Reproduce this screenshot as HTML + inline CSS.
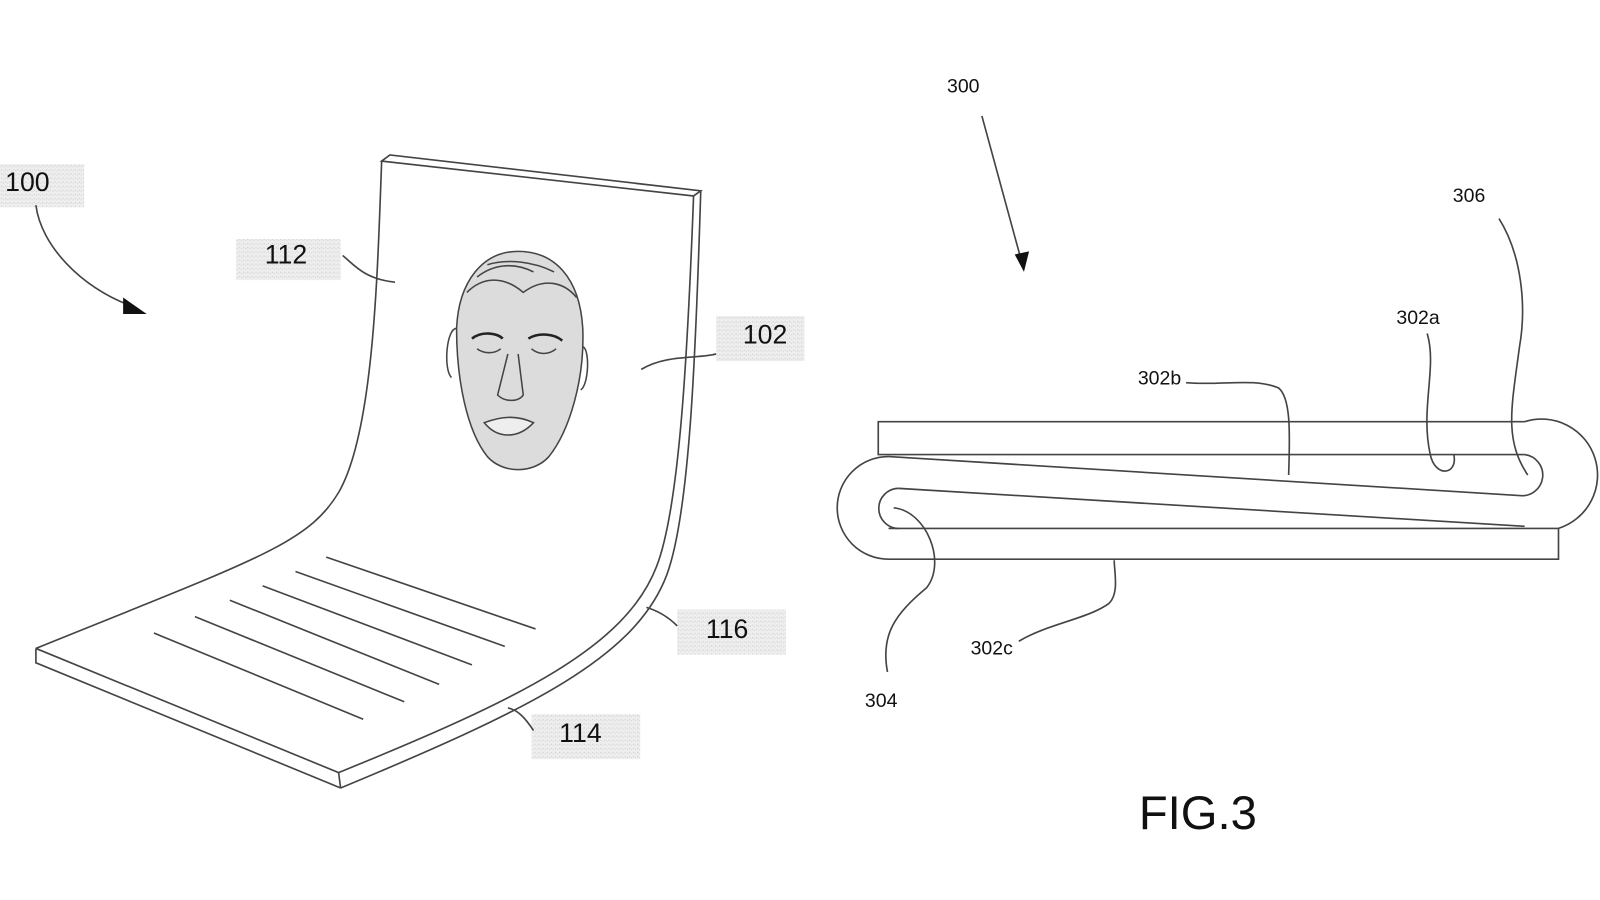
<!DOCTYPE html>
<html><head><meta charset="utf-8"><style>
html,body{margin:0;padding:0;background:#fff;}
svg{display:block}
text{font-family:"Liberation Sans",sans-serif;fill:#111}
</style></head><body>
<svg width="1600" height="900" viewBox="0 0 1600 900" xmlns="http://www.w3.org/2000/svg">
<defs>
<pattern id="dots" width="4" height="4" patternUnits="userSpaceOnUse">
<rect width="4" height="4" fill="#eeeeee"/><rect x="1" y="1" width="1" height="1" fill="#c8c8c8"/><rect x="3" y="2" width="1" height="1" fill="#d4d4d4"/>
</pattern>
</defs>
<g transform="scale(1.026)">
<g fill="url(#dots)">
<rect x="0" y="160" width="82" height="42"/>
<rect x="230" y="233" width="102" height="40"/>
<rect x="698" y="308" width="86" height="44"/>
<rect x="660" y="594" width="106" height="44"/>
<rect x="518" y="696" width="106" height="44"/>
</g>
<g font-size="26">
<text x="5" y="186">100</text>
<text x="258" y="257">112</text>
<text x="724" y="335">102</text>
<text x="688" y="622">116</text>
<text x="545" y="723">114</text>
</g>
<g fill="none" stroke="#444" stroke-width="1.6">
<path d="M372,157 L380,151 L683,186 L676,191 Z"/>
<path d="M372,157 C368,260 365,420 330,480 C300,530 250,545 35,632"/>
<path d="M683,186 C678,350 672,500 650,560 C620,640 520,690 332,768"/>
<path d="M676,191 C670,350 662,495 640,552 C610,630 510,680 330,753"/>
<path d="M35,632 L35,646 L332,768 M35,632 L330,753 L332,768"/>
<path d="M318,543 L522,613 M288,557 L492,630 M256,571 L460,648 M224,585 L428,667 M190,601 L394,684 M150,617 L354,701"/>
<path d="M35,200 C40,240 80,280 125,297"/>
<path d="M334,249 C345,258 355,272 385,275"/>
<path d="M698,345 C680,350 650,345 625,360"/>
<path d="M660,610 C650,600 640,595 630,592"/>
<path d="M520,712 C512,700 505,692 495,690"/>
</g>
<path d="M120,290 L143,306 L120,306 Z" fill="#111"/>
<g stroke="#444" stroke-width="1.5">
<path d="M505,245 C540,245 565,270 568,320 C570,370 555,420 535,445 C520,462 490,462 475,445 C455,420 445,370 445,320 C447,275 470,245 505,245 Z" fill="#dcdcdc"/>
<path d="M445,320 C435,320 432,360 440,368 M568,338 C575,340 574,375 566,380" fill="none"/>
<path d="M455,285 C470,270 490,268 510,285 C530,270 550,275 562,290 M465,270 C480,258 500,255 520,265 M475,258 C495,252 520,255 540,265" fill="none"/>
<path d="M460,330 C470,322 485,325 490,330 M515,330 C525,324 540,325 548,332" fill="none" stroke-width="2.5" stroke="#222"/>
<path d="M465,340 C472,345 482,345 488,340 M518,340 C525,346 535,346 542,340" fill="none"/>
<path d="M495,345 L485,385 C492,392 505,392 510,385 L505,345" fill="none"/>
<path d="M472,412 C490,405 505,405 520,412 C505,428 485,428 472,412 Z" fill="#eee"/>
</g>
<g transform="translate(11,-2)">
<g fill="none" stroke="#444" stroke-width="1.6">
<path d="M1475,413 H845 V445 H1475"/>
<path d="M1475,413 A52,52 0 0 1 1508,517"/>
<path d="M855,517 H1508 V547 H855"/>
<path d="M1475,445 A20,20 0 0 1 1470,485 L855,447"/>
<path d="M865,478 L1475,515"/>
<path d="M855,447 A50,50 0 0 0 855,547"/>
<path d="M865,478 A19.5,19.5 0 0 0 865,517"/>
<path d="M1145,375 C1180,378 1210,370 1235,380 C1248,390 1246,430 1245,465"/>
<path d="M1380,327 C1390,360 1373,400 1383,445 C1388,468 1410,465 1406,445"/>
<path d="M1450,215 C1472,250 1477,300 1470,340 C1462,400 1455,430 1478,465"/>
<path d="M946,115 L985,258"/>
<path d="M854,657 C847,620 862,600 892,575 C912,550 892,500 860,497"/>
<path d="M982,627 C1010,610 1050,605 1070,590 C1080,580 1075,560 1075,548"/>
</g>
<path d="M978,250 L987,267 L992,247 Z" fill="#111"/>
<g font-size="19">
<text x="912" y="92">300</text>
<text x="1405" y="199">306</text>
<text x="1350" y="318">302a</text>
<text x="1098" y="377">302b</text>
<text x="935" y="640">302c</text>
<text x="832" y="691">304</text>
</g>
<text x="1099" y="810" font-size="46">FIG.3</text>
</g>
</g>
</svg>
</body></html>
